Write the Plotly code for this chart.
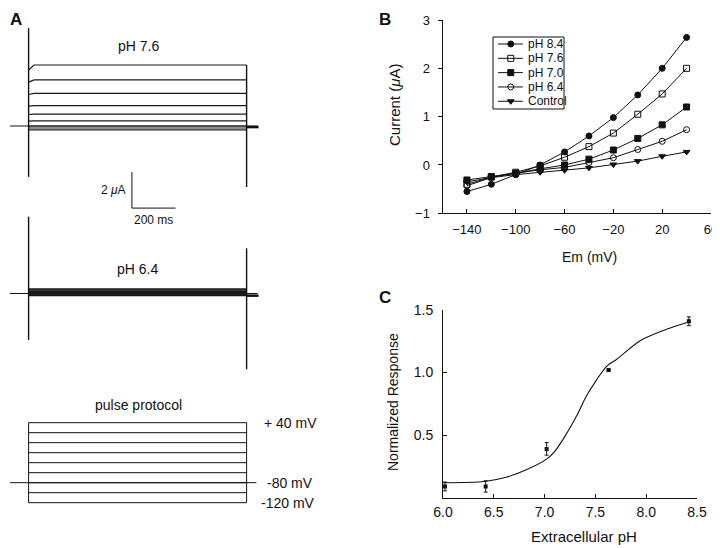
import plotly.graph_objects as go

# ======================= DATA =======================
# Panel A: voltage-clamp current traces (uA) vs time (ms)
step_mv = [40, 20, 0, -20, -40, -60, -80, -100, -120]
holding_mv = -80
pulse_ms = 1000
pre_ms = -85
post_ms = 1050
tail_end_ms = 1055
onset_ms = 25
i_onset_ph76 = [3.11, 2.44, 1.75, 1.10, 0.64, 0.27, 0.0, -0.11, -0.22]
i_steady_ph76 = [3.39, 2.56, 1.81, 1.13, 0.66, 0.28, 0.0, -0.11, -0.22]
i_steady_ph64 = [0.25, 0.20, 0.15, 0.10, 0.06, 0.03, 0.0, -0.06, -0.12]
cap_on_ph76 = [5.44, -2.83]
cap_off_ph76 = [3.39, -3.39]
cap_on_ph64 = [4.27, -2.58]
cap_off_ph64 = [2.51, -4.21]
tail_ph76 = -0.06
tail_ph64 = -0.12
scale_ua = 2
scale_ms = 200

# Panel B: I-V relations
em_mv = [-140, -120, -100, -80, -60, -40, -20, 0, 20, 40]
i_ph84 = [-0.55, -0.40, -0.20, 0.00, 0.27, 0.60, 0.98, 1.45, 2.00, 2.64]
i_ph76 = [-0.40, -0.25, -0.15, -0.02, 0.16, 0.38, 0.66, 1.05, 1.47, 2.00]
i_ph70 = [-0.31, -0.24, -0.17, -0.08, 0.00, 0.12, 0.31, 0.55, 0.83, 1.20]
i_ph64 = [-0.43, -0.26, -0.17, -0.10, -0.05, 0.05, 0.15, 0.32, 0.49, 0.73]
i_ctrl = [-0.35, -0.26, -0.20, -0.15, -0.11, -0.06, 0.01, 0.08, 0.18, 0.27]
series_names = ["pH 8.4", "pH 7.6", "pH 7.0", "pH 6.4", "Control"]
series_values = [i_ph84, i_ph76, i_ph70, i_ph64, i_ctrl]
series_symbols = ["circle", "square-open", "square", "circle-open", "triangle-down"]

# Panel C: pH dependence
ph_pts = [6.02, 6.42, 7.02, 7.63, 8.42]
resp_pts = [0.09, 0.09, 0.39, 1.02, 1.41]
resp_err = [0.035, 0.045, 0.05, 0.0, 0.035]
fit_ph = [6.0, 6.41, 6.63, 6.82, 7.02, 7.10, 7.20, 7.32, 7.41, 7.51, 7.61, 7.71, 7.94, 8.20, 8.42]
fit_resp = [0.120, 0.130, 0.165, 0.223, 0.308, 0.37, 0.49, 0.66, 0.81, 0.94, 1.05, 1.106, 1.255, 1.346, 1.404]

# ======================= LAYOUT HELPERS =======================
# the page body adds an 8 px margin, so the figure is 8 px smaller on each side
OFF = 8
W, H = 720 - OFF, 548 - OFF
FONT = "Liberation Sans, Arial, Helvetica, sans-serif"
BLK = "#111111"


def dom_x(a, b):
    return [(a - OFF) / W, (b - OFF) / W]


def dom_y(top, bottom):
    return [1 - (bottom - OFF) / H, 1 - (top - OFF) / H]


def px(x):
    return (x - OFF) / W


def py(y):
    return 1 - (y - OFF) / H


# Panel A pixel mapping (window pixels)
A_T0_PX = 28.6
A_PX_PER_MS = 0.218
A_XDOM = (OFF, 300)
a_xrange = [(A_XDOM[0] - A_T0_PX) / A_PX_PER_MS, (A_XDOM[1] - A_T0_PX) / A_PX_PER_MS]
PX_PER_UA = 18.0
base76, dom76 = 126.0, (15, 228)
base64, dom64 = 293.5, (205, 380)
prot_base, prot_px_per_mv, domp = 482.7, 0.5, (395, 515)
y3range = [-(dom76[1] - base76) / PX_PER_UA, (base76 - dom76[0]) / PX_PER_UA]
y4range = [-(dom64[1] - base64) / PX_PER_UA, (base64 - dom64[0]) / PX_PER_UA]
y5range = [holding_mv - (domp[1] - prot_base) / prot_px_per_mv,
           holding_mv + (prot_base - domp[0]) / prot_px_per_mv]

fig = go.Figure()


def line(x, y, xa, ya, width=1.0, color=BLK, shape="linear"):
    fig.add_trace(go.Scatter(x=x, y=y, xaxis=xa, yaxis=ya, mode="lines",
                             line=dict(color=color, width=width, shape=shape),
                             showlegend=False, hoverinfo="skip"))


# ---- Panel A: pH 7.6 ----
line([pre_ms, post_ms], [0, 0], "x3", "y3", 1.0)
for on, ss in zip(i_onset_ph76, i_steady_ph76):
    line([0, onset_ms, pulse_ms], [on, ss, ss], "x3", "y3", 1.2, "#1a1a1a")
line([0, 0], cap_on_ph76, "x3", "y3", 1.4)
line([pulse_ms, pulse_ms], cap_off_ph76, "x3", "y3", 1.4)
line([pulse_ms, tail_end_ms], [tail_ph76, tail_ph76], "x3", "y3", 2.5)

# scale bar (inside pH 7.6 frame)
SB_T, SB_I = 474, -4.56
line([SB_T, SB_T, SB_T + scale_ms], [SB_I + scale_ua, SB_I, SB_I], "x3", "y3", 1.0)

# ---- Panel A: pH 6.4 ----
line([pre_ms, post_ms], [0, 0], "x4", "y4", 1.0)
for ss in i_steady_ph64:
    line([0, pulse_ms], [ss, ss], "x4", "y4", 1.3, "#1a1a1a")
line([0, 0], cap_on_ph64, "x4", "y4", 1.4)
line([pulse_ms, pulse_ms], cap_off_ph64, "x4", "y4", 1.4)
line([pulse_ms, tail_end_ms], [tail_ph64, tail_ph64], "x4", "y4", 2.5)

# ---- Panel A: pulse protocol ----
for v in step_mv:
    line([0, pulse_ms], [v, v], "x5", "y5", 1.0)
line([pre_ms, post_ms - 5], [holding_mv, holding_mv], "x5", "y5", 1.0)
line([0, 0], [min(step_mv), max(step_mv)], "x5", "y5", 1.0)
line([pulse_ms, pulse_ms], [min(step_mv), max(step_mv)], "x5", "y5", 1.0)

# ---- Panel B ----
for name, vals, sym in zip(series_names, series_values, series_symbols):
    fig.add_trace(go.Scatter(x=em_mv, y=vals, xaxis="x", yaxis="y", mode="lines+markers",
                             name=name, showlegend=False,
                             line=dict(color=BLK, width=1),
                             marker=dict(symbol=sym, size=6, color=BLK,
                                         line=dict(color=BLK, width=1))))

# manual compact legend for panel B
for i, (name, sym) in enumerate(zip(series_names, series_symbols)):
    fig.add_trace(go.Scatter(x=[0.07, 0.42], y=[i, i], xaxis="x6", yaxis="y6", mode="lines",
                             line=dict(color=BLK, width=1), showlegend=False, hoverinfo="skip"))
    fig.add_trace(go.Scatter(x=[0.25], y=[i], xaxis="x6", yaxis="y6", mode="markers",
                             marker=dict(symbol=sym, size=6, color=BLK, line=dict(color=BLK, width=1)),
                             showlegend=False, hoverinfo="skip"))

# ---- Panel C ----
fig.add_trace(go.Scatter(x=fit_ph, y=fit_resp, xaxis="x2", yaxis="y2", mode="lines",
                         line=dict(color=BLK, width=1.1, shape="spline", smoothing=0.8),
                         showlegend=False))
fig.add_trace(go.Scatter(x=ph_pts, y=resp_pts, xaxis="x2", yaxis="y2", mode="markers",
                         marker=dict(symbol="square", size=4, color=BLK),
                         error_y=dict(type="data", array=resp_err, visible=True,
                                      thickness=1, width=2, color=BLK),
                         showlegend=False))

# ======================= AXES =======================
hidden = dict(visible=False, fixedrange=True)
axis_common = dict(showline=True, linecolor=BLK, linewidth=1, showgrid=False, zeroline=False,
                   tickcolor=BLK, ticklen=4, tickwidth=1, mirror=False, automargin=False,
                   ticklabeloverflow="allow",
                   tickfont=dict(family=FONT, size=13, color=BLK))

annotations = []


def ann(text, x, y, size=14, **kw):
    d = dict(text=text, x=x, y=y, xref="paper", yref="paper", showarrow=False,
             xanchor="center", yanchor="middle",
             font=dict(family=FONT, size=size, color=BLK))
    d.update(kw)
    annotations.append(d)


# panel letters (A and B pinned to the top edge of the figure)
ann("<b>A</b>", 0.0, 1.0, 17, xanchor="left", yanchor="top")
ann("<b>B</b>", px(385), 1.0, 17, yanchor="top")
ann("<b>C</b>", px(385), py(297), 17)

# panel A labels
ann("pH 7.6", px(138), py(46), 14)
ann("pH 6.4", px(137), py(269), 14)
ann("pulse protocol", px(138), py(405), 14)
annotations.append(dict(text="2 <i>μ</i>A", x=SB_T, y=SB_I + scale_ua / 2, xref="x3", yref="y3",
                        xanchor="right", yanchor="middle", xshift=-4, showarrow=False,
                        font=dict(family=FONT, size=12, color=BLK)))
annotations.append(dict(text="200 ms", x=SB_T + scale_ms / 2, y=SB_I, xref="x3", yref="y3",
                        xanchor="center", yanchor="top", yshift=-3, showarrow=False,
                        font=dict(family=FONT, size=12, color=BLK)))
for lab, v, sh in [("+ 40 mV", max(step_mv), 15), ("-80 mV", holding_mv, 18), ("-120 mV", min(step_mv), 12)]:
    annotations.append(dict(text=lab, x=pulse_ms, y=v, xref="x5", yref="y5", xanchor="left",
                            yanchor="middle", xshift=sh, showarrow=False,
                            font=dict(family=FONT, size=14, color=BLK)))

# axis titles
ann("Current (<i>μ</i>A)", px(395), py(105), 15, textangle=-90)
ann("Em (mV)", px(589), py(257), 14)
ann("Normalized Response", px(393), py(402), 14, textangle=-90)
ann("Extracellular pH", px(584), py(536), 15)

# legend texts
for i, name in enumerate(series_names):
    annotations.append(dict(text=name, x=0.47, y=i, xref="x6", yref="y6", xanchor="left",
                            yanchor="middle", showarrow=False,
                            font=dict(family=FONT, size=12, color=BLK)))

shapes = [dict(type="rect", xref="x6 domain", yref="y6 domain", x0=0, x1=1, y0=0, y1=1,
               line=dict(color=BLK, width=1))]

fig.update_layout(
    width=W, height=H, margin=dict(l=0, r=0, t=0, b=0, pad=0, autoexpand=False),
    paper_bgcolor="white", plot_bgcolor="rgba(0,0,0,0)",
    showlegend=False, font=dict(family=FONT, color=BLK),
    xaxis=dict(domain=dom_x(442.5, 711), range=[-160, 60], tickvals=[-140, -100, -60, -20, 20, 60],
               ticks="inside", ticklabelstandoff=4, anchor="y", **axis_common),
    yaxis=dict(domain=dom_y(20, 213.3), range=[-1, 3], tickvals=[-1, 0, 1, 2, 3],
               ticks="outside", ticklabelstandoff=5, anchor="x", **axis_common),
    xaxis2=dict(domain=dom_x(443, 697), range=[6.0, 8.5], tickvals=[6.0, 6.5, 7.0, 7.5, 8.0, 8.5],
                tickformat=".1f", ticks="inside", ticklabelstandoff=1, anchor="y2",
                **{**axis_common, "tickfont": dict(family=FONT, size=14, color=BLK)}),
    yaxis2=dict(domain=dom_y(310, 497.7), range=[0, 1.5], tickvals=[0.5, 1.0, 1.5],
                tickformat=".1f", ticks="inside", ticklabelstandoff=6, anchor="x2",
                **{**axis_common, "tickfont": dict(family=FONT, size=14, color=BLK)}),
    xaxis3=dict(domain=dom_x(*A_XDOM), range=a_xrange, anchor="y3", **hidden),
    yaxis3=dict(domain=dom_y(*dom76), range=y3range, anchor="x3", **hidden),
    xaxis4=dict(domain=dom_x(*A_XDOM), range=a_xrange, anchor="y4", **hidden),
    yaxis4=dict(domain=dom_y(*dom64), range=y4range, anchor="x4", **hidden),
    xaxis5=dict(domain=dom_x(*A_XDOM), range=a_xrange, anchor="y5", **hidden),
    yaxis5=dict(domain=dom_y(*domp), range=y5range, anchor="x5", **hidden),
    xaxis6=dict(domain=dom_x(493, 564), range=[0, 1], anchor="y6", **hidden),
    yaxis6=dict(domain=dom_y(37, 109), range=[4.54, -0.49], anchor="x6", **hidden),
    annotations=annotations, shapes=shapes,
)

fig.write_html("out.html")
